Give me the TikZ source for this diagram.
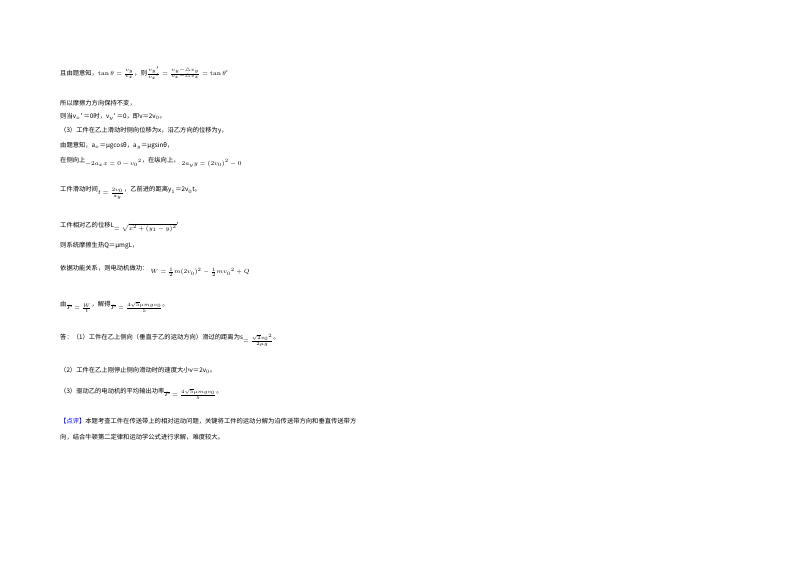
\documentclass[tikz,border=0pt]{standalone}
\usepackage{fontspec}
\usepackage{amsmath}
\newfontfamily\cjk{Noto Sans CJK SC}
\newcommand{\lowf}[1]{\raisebox{-3pt}{$#1$}}
\begin{document}
\begin{tikzpicture}[x=1pt,y=-1pt,
  t/.style={anchor=west,inner sep=0pt,font=\cjk\fontsize{6.3}{8}\selectfont}]
\useasboundingbox[fill=white] (0,0) rectangle (800,565);
\node[t] (l1) at (60,73) {且由题意知，$\tan\theta=\frac{v_y}{v_x}$，则$\frac{v_y{}'}{v_x{}'}=\frac{v_y-\triangle v_y}{v_x-\triangle v_x}=\tan\theta$'};
\node[t] (l2) at (60,103) {所以摩擦力方向保持不变，};
\node[t] (l3) at (60,117) {则当v$_x$' ＝0时，v$_y$' ＝0，即v＝2v$_0$。};
\node[t] (l4) at (60,131) {（3）工件在乙上滑动时侧向位移为x，沿乙方向的位移为y，};
\node[t] (l5) at (60,146) {由题意知，a$_x$＝μgcosθ，a$_y$＝μgsinθ，};
\node[t] (l6) at (60,162) {在侧向上\lowf{-2a_x x=0-{v_0}^2}，在纵向上，\lowf{\;2a_y y=(2v_0)^2-0}};
\node[t] (l7) at (60,193) {工件滑动时间\lowf{t=\frac{2v_0}{a_y}}，乙前进的距离y$_1$＝2v$_0$t。};
\node[t] (l8) at (60,227) {工件相对乙的位移L\lowf{=\sqrt{x^2+(y_1-y)^2}}'};
\node[t] (l9) at (60,246) {则系统摩擦生热Q＝μmgL，};
\node[t] (l10) at (60,271) {依据功能关系，则电动机做功：\lowf{\;W=\frac{1}{2}m(2v_0)^2-\frac{1}{2}m{v_0}^2+Q}};
\node[t] (l11) at (60,307) {由\lowf{\overline{P}=\frac{W}{t}}，解得\lowf{\overline{P}=\frac{4\sqrt{5}\mu mgv_0}{5}}。};
\node[t] (l12) at (60,340) {答：（1）工件在乙上侧向（垂直于乙的运动方向）滑过的距离为s\lowf{=\frac{\sqrt{2}{v_0}^2}{2\mu g}}。};
\node[t] (l13) at (60,370) {（2）工件在乙上刚停止侧向滑动时的速度大小v＝2v$_0$。};
\node[t] (l14) at (60,394) {（3）驱动乙的电动机的平均输出功率\lowf{\overline{P}=\frac{4\sqrt{5}\mu mgv_0}{5}}。};
\node[t] (l15) at (60,421) {\textcolor{blue}{【点评】}本题考查工件在传送带上的相对运动问题，关键将工件的运动分解为沿传送带方向和垂直传送带方};
\node[t] (l16) at (60,437) {向，结合牛顿第二定律和运动学公式进行求解，难度较大。};
\end{tikzpicture}
\end{document}
